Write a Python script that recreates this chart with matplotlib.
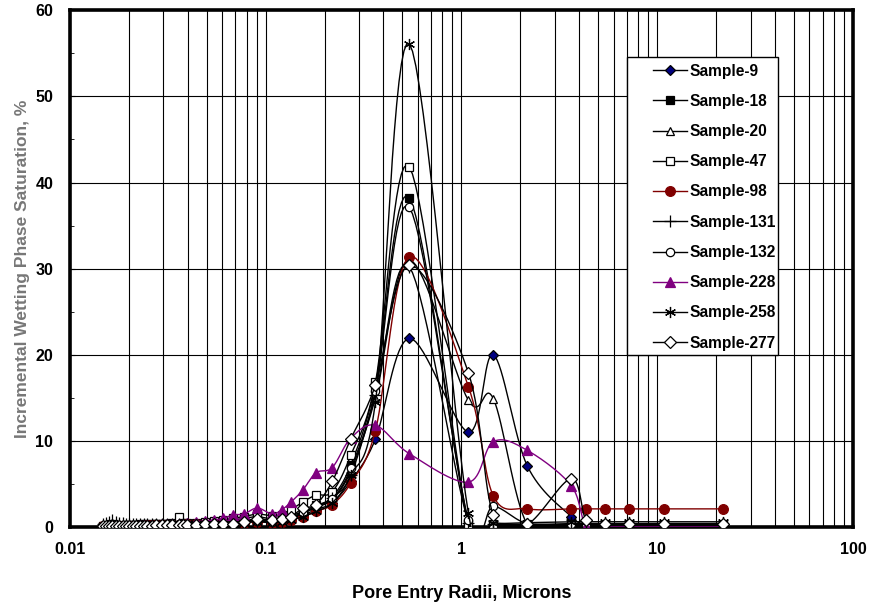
import numpy as np
import matplotlib
matplotlib.use('Agg')
from matplotlib import pyplot as plt
from matplotlib.patches import Rectangle
from matplotlib.ticker import LogLocator, NullFormatter, FixedLocator

plt.rcParams['font.family'] = ['Liberation Sans', 'DejaVu Sans']
plt.rcParams['font.weight'] = 'bold'
plt.rcParams['axes.labelweight'] = 'bold'

# pore entry radii, microns (shared by all samples)
radii = [0.0147, 0.0153, 0.0159, 0.0165, 0.0172, 0.0179, 0.0186, 0.0193, 0.0201, 0.0209,
         0.0217, 0.0228, 0.0238, 0.0249, 0.0262, 0.0277, 0.0294, 0.0313, 0.0334, 0.0359,
         0.0377, 0.0399, 0.0440, 0.0489, 0.0545, 0.0608, 0.0681, 0.0774, 0.0907, 0.108,
         0.121, 0.135, 0.155, 0.181, 0.219, 0.272, 0.364, 0.543, 1.086, 1.456,
         2.17, 3.64, 4.34, 5.43, 7.20, 10.86, 21.7]

s9 = [0.1, 0.1, 0.1, 0.1, 0.1, 0.1, 0.1, 0.1, 0.1, 0.1,
      0.1, 0.1, 0.2, 0.2, 0.2, 0.2, 0.2, 0.2, 0.2, 0.3,
      0.3, 0.3, 0.3, 0.4, 0.4, 0.5, 0.5, 0.6, 0.7, 0.6,
      0.7, 1.0, 1.4, 2.0, 2.8, 5.3, 10.2, 21.9, 11.0, 20.0,
      7.1, 1.2, 0.4, 0.3, 0.3, 0.3, 0.3]
s18 = [0.1, 0.1, 0.1, 0.1, 0.1, 0.1, 0.1, 0.1, 0.2, 0.2,
       0.2, 0.2, 0.2, 0.2, 0.2, 0.3, 0.3, 0.3, 0.3, 0.3,
       0.4, 0.4, 0.4, 0.5, 0.6, 0.7, 0.8, 1.0, 1.2, 0.9,
       1.0, 1.3, 1.8, 2.5, 3.5, 7.2, 16.5, 38.2, 0.3, 0.2,
       0.2, 0.2, 0.2, 0.2, 0.2, 0.2, 0.2]
s20 = [0.1, 0.1, 0.1, 0.1, 0.1, 0.1, 0.1, 0.1, 0.1, 0.1,
       0.2, 0.2, 0.2, 0.2, 0.2, 0.2, 0.3, 0.3, 0.3, 0.3,
       0.3, 0.3, 0.4, 0.4, 0.5, 0.5, 0.6, 0.7, 0.8, 0.7,
       0.8, 1.1, 1.6, 2.3, 3.2, 6.5, 15.0, 31.0, 14.7, 14.9,
       0.3, 0.3, 0.3, 0.2, 0.2, 0.2, 0.2]
s47 = [0.1, 0.1, 0.1, 0.1, 0.1, 0.1, 0.2, 0.2, 0.2, 0.2,
       0.2, 0.3, 0.3, 0.3, 0.3, 0.3, 0.4, 0.4, 0.5, 1.1,
       0.5, 0.5, 0.5, 0.6, 0.7, 0.8, 1.0, 1.2, 1.5, 1.3,
       1.4, 2.0, 2.9, 3.7, 4.1, 8.3, 16.8, 41.8, 0.3, 0.3,
       0.3, 0.3, 0.3, 0.3, 0.3, 0.3, 0.3]
s98 = [0.1, 0.1, 0.1, 0.1, 0.1, 0.1, 0.1, 0.1, 0.1, 0.1,
       0.1, 0.1, 0.1, 0.2, 0.2, 0.2, 0.2, 0.2, 0.2, 0.2,
       0.2, 0.3, 0.3, 0.3, 0.4, 0.4, 0.5, 0.5, 0.6, 0.5,
       0.6, 0.8, 1.2, 1.8, 2.6, 5.1, 11.2, 31.4, 16.3, 3.6,
       2.1, 2.1, 2.1, 2.1, 2.1, 2.1, 2.1]
s131 = [0.3, 0.5, 0.6, 0.8, 0.6, 0.5, 0.5, 0.4, 0.4, 0.4,
        0.4, 0.4, 0.3, 0.3, 0.3, 0.3, 0.3, 0.3, 0.3, 0.3,
        0.4, 0.4, 0.4, 0.5, 0.5, 0.6, 0.7, 0.8, 0.9, 0.8,
        0.9, 1.2, 1.6, 2.3, 3.4, 6.0, 15.3, 30.2, 0.5, 0.3,
        0.3, 0.3, 0.3, 0.3, 0.3, 0.3, 0.3]
s132 = [0.1, 0.1, 0.1, 0.1, 0.1, 0.1, 0.1, 0.1, 0.1, 0.1,
        0.1, 0.2, 0.2, 0.2, 0.2, 0.2, 0.2, 0.3, 0.3, 0.3,
        0.3, 0.3, 0.4, 0.4, 0.4, 0.5, 0.5, 0.6, 0.7, 0.6,
        0.8, 1.1, 1.6, 2.4, 3.3, 6.8, 15.8, 37.1, 0.8, 2.4,
        0.4, 0.4, 0.4, 0.4, 0.4, 0.4, 0.4]
s228 = [0.1, 0.1, 0.1, 0.1, 0.1, 0.1, 0.1, 0.1, 0.1, 0.1,
        0.1, 0.2, 0.2, 0.2, 0.2, 0.2, 0.3, 0.3, 0.3, 0.3,
        0.4, 0.5, 0.6, 0.7, 0.8, 1.0, 1.4, 1.5, 2.2, 1.5,
        2.0, 2.9, 4.3, 6.3, 6.9, 10.3, 11.8, 8.5, 5.2, 9.9,
        8.9, 4.8, 0.0, 0.0, 0.0, 0.0, 0.0]
s258 = [0.1, 0.1, 0.1, 0.1, 0.1, 0.1, 0.1, 0.1, 0.1, 0.1,
        0.1, 0.1, 0.1, 0.2, 0.2, 0.2, 0.2, 0.2, 0.2, 0.2,
        0.2, 0.3, 0.3, 0.3, 0.3, 0.4, 0.4, 0.5, 0.6, 0.5,
        0.6, 0.8, 1.2, 1.8, 2.8, 6.0, 14.5, 56.1, 1.6, 0.5,
        0.5, 0.6, 0.6, 0.6, 0.6, 0.6, 0.6]
s277 = [0.1, 0.1, 0.1, 0.1, 0.1, 0.1, 0.1, 0.1, 0.1, 0.1,
        0.1, 0.1, 0.1, 0.1, 0.1, 0.2, 0.2, 0.2, 0.2, 0.2,
        0.2, 0.2, 0.2, 0.3, 0.3, 0.3, 0.4, 0.6, 0.9, 0.8,
        0.9, 1.2, 2.2, 2.6, 5.3, 10.2, 16.5, 30.4, 17.9, 1.4,
        0.3, 5.6, 0.8, 0.3, 0.3, 0.3, 0.3]

names = ['Sample-9', 'Sample-18', 'Sample-20', 'Sample-47', 'Sample-98',
         'Sample-131', 'Sample-132', 'Sample-228', 'Sample-258', 'Sample-277']
series = [s9, s18, s20, s47, s98, s131, s132, s228, s258, s277]
lcol = ['k', 'k', 'k', 'k', '#800000', 'k', 'k', '#800080', 'k', 'k']
mark = ['D', 's', '^', 's', 'o', '+', 'o', '^', (6, 2, 0), 'D']
mface = ['#000080', 'k', 'w', 'w', '#800000', 'k', 'w', '#800080', 'k', 'w']
msize = [5, 6, 6, 6, 7, 8, 6, 7, 8, 6]

def smooth(x, y, n=16):
    # catmull-rom in log-x space, like excel smoothed lines
    lx = np.log10(x)
    p = np.column_stack([lx, y])
    p = np.vstack([p[0], p, p[-1]])
    t = np.linspace(0, 1, n, endpoint=False)
    out = []
    for i in range(1, len(p) - 2):
        p0, p1, p2, p3 = p[i-1], p[i], p[i+1], p[i+2]
        for tt in t:
            out.append(0.5 * (2*p1 + (-p0 + p2)*tt + (2*p0 - 5*p1 + 4*p2 - p3)*tt**2
                              + (-p0 + 3*p1 - 3*p2 + p3)*tt**3))
    out.append(p[-2])
    out = np.array(out)
    return 10**out[:, 0], out[:, 1], n

fig = plt.figure(figsize=(8.73, 6.05), dpi=100)
ax = fig.add_axes([0.080, 0.129, 0.897, 0.854])

for i in range(len(series)):
    xs, ys, n = smooth(np.array(radii), np.array(series[i], float))
    ax.plot(xs, ys, color=lcol[i], lw=1.0, marker=mark[i], markevery=list(range(0, len(xs), n)),
            markersize=msize[i], markerfacecolor=mface[i], markeredgecolor='k' if lcol[i] == 'k' else lcol[i],
            markeredgewidth=0.9, label=names[i], zorder=3+i)

ax.set_xscale('log')
ax.set_xlim(0.01, 100)
ax.set_ylim(0, 60)
ax.set_xticks([0.01, 0.1, 1, 10, 100])
ax.set_xticklabels(['0.01', '0.1', '1', '10', '100'])
ax.xaxis.set_minor_locator(LogLocator(base=10, subs=np.arange(2, 10)))
ax.xaxis.set_minor_formatter(NullFormatter())
ax.set_yticks(range(0, 61, 10))
ax.yaxis.set_minor_locator(FixedLocator(range(5, 60, 10)))
ax.grid(True, which='major', axis='both', color='k', lw=0.8)
ax.grid(True, which='minor', axis='x', color='k', lw=0.8)
ax.tick_params(axis='both', which='both', direction='in', labelsize=11.5)
ax.tick_params(axis='y', which='both', pad=12)
ax.tick_params(axis='y', which='minor', length=3)
ax.tick_params(axis='x', which='both', length=0, pad=11)
for sp in ax.spines.values():
    sp.set_linewidth(2.6)

ax.set_xlabel('Pore Entry Radii, Microns', fontsize=13, labelpad=20)
ax.set_ylabel('Incremental Wetting Phase Saturation, %', fontsize=12.5, color='#777777', labelpad=4)

# legend box drawn on its own, entries placed inside it
ax.add_patch(Rectangle((0.711, 0.333), 0.193, 0.576, transform=ax.transAxes, facecolor='w',
                       edgecolor='k', lw=1.0, zorder=19, clip_on=False))
leg = ax.legend(loc='upper left', bbox_to_anchor=(0.745, 0.897), fontsize=11.2, numpoints=1,
                frameon=False, handlelength=2.15, labelspacing=0.98, borderpad=0,
                borderaxespad=0, handletextpad=0.15)
leg.set_zorder(20)

fig.savefig('out.png', dpi=100)
